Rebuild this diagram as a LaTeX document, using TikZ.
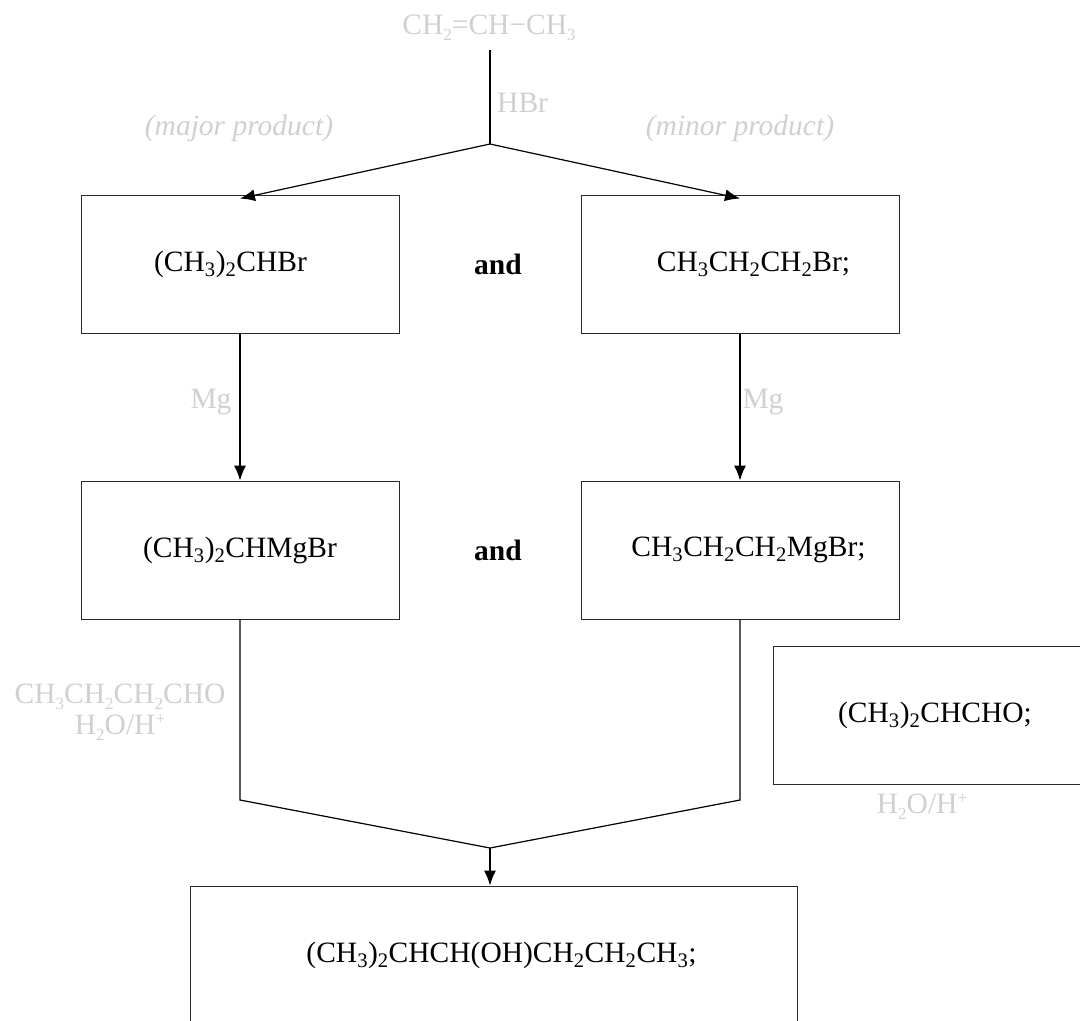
\documentclass[tikz,border=0pt]{standalone}
\usepackage{fontspec}
\setmainfont{Liberation Serif}
\usetikzlibrary{arrows.meta}
\definecolor{lbl}{RGB}{208,208,208}
\definecolor{edge}{RGB}{40,40,40}
\newcommand{\bsub}[1]{\textsubscript{#1}}
\newcommand{\lsub}[1]{\raisebox{-0.45ex}{\fontsize{17}{17}\selectfont #1}}
\newcommand{\lsup}[1]{\raisebox{0.75ex}{\fontsize{17}{17}\selectfont #1}}
\tikzset{
  box/.style={draw=edge, line width=1pt, minimum width=318pt, minimum height=138pt, inner sep=0pt, font=\fontsize{29.5}{32}\selectfont},
  lab/.style={text=lbl, inner sep=0pt, font=\fontsize{29.5}{32}\selectfont},
  conn/.style={line width=1.2pt},
  arr/.style={conn, -{Latex[length=15pt,width=12pt]}},
  andlbl/.style={inner sep=0pt, font=\fontsize{29.5}{32}\selectfont\bfseries}
}
\begin{document}
\begin{tikzpicture}[x=1pt,y=-1pt]
\useasboundingbox (0,0) rectangle (1080,1021);
% top
\node[lab] (top) at (489,28) {CH\lsub{2}=CH−CH\lsub{3}};
\coordinate (topend) at (490,50);
\coordinate (br) at (490,144);
\node[lab, anchor=west] (hbr) at (497,103) {HBr};
\node[lab, font=\fontsize{29.5}{32}\selectfont\itshape] (major) at (239,128) {(major product)};
\node[lab, font=\fontsize{29.5}{32}\selectfont\itshape] (minor) at (740,128) {(minor product)};
% row 1
\node[box] (b1) at (240,264) {(CH\bsub{3})\bsub{2}CHBr\hspace*{19pt}};
\node[box] (b2) at (740,264) {\hspace*{27pt}CH\bsub{3}CH\bsub{2}CH\bsub{2}Br;};
\node[andlbl] (and1) at (498,264) {and};
% row 2
\node[box] (c1) at (240,550) {(CH\bsub{3})\bsub{2}CHMgBr};
\node[box] (c2) at (740,550) {\hspace*{17pt}CH\bsub{3}CH\bsub{2}CH\bsub{2}MgBr;};
\node[andlbl] (and2) at (498,550) {and};
\node[lab] (mg1) at (211,402) {Mg};
\node[lab] (mg2) at (763,402) {Mg};
% reagents left
\node[lab] (ald1) at (120,697) {CH\lsub{3}CH\lsub{2}CH\lsub{2}CHO};
\node[lab] (w1) at (120,728) {H\lsub{2}O/H\lsup{+}};
% right box
\node[box] (e) at (932,715.5) {\hspace*{6pt}(CH\bsub{3})\bsub{2}CHCHO;};
\node[lab] (w2) at (922,807) {H\lsub{2}O/H\lsup{+}};
% bottom
\node[box, minimum width=607pt] (d) at (493.5,955) {\hspace*{16pt}(CH\bsub{3})\bsub{2}CHCH(OH)CH\bsub{2}CH\bsub{2}CH\bsub{3};};
\coordinate (jl) at (240,800);
\coordinate (jr) at (740,800);
\coordinate (jn) at (490,848);
% connectors
\draw[conn] (topend) -- (br);
\draw[arr] (br) -- ([yshift=-4pt]b1.north);
\draw[arr] (br) -- ([yshift=-4pt]b2.north);
\draw[arr] (b1.south) -- (c1.north);
\draw[arr] (b2.south) -- (c2.north);
\draw[conn] (c1.south) -- (jl) -- (jn);
\draw[conn] (c2.south) -- (jr) -- (jn);
\draw[arr] (jn) -- (jn |- d.north);
\end{tikzpicture}
\end{document}
